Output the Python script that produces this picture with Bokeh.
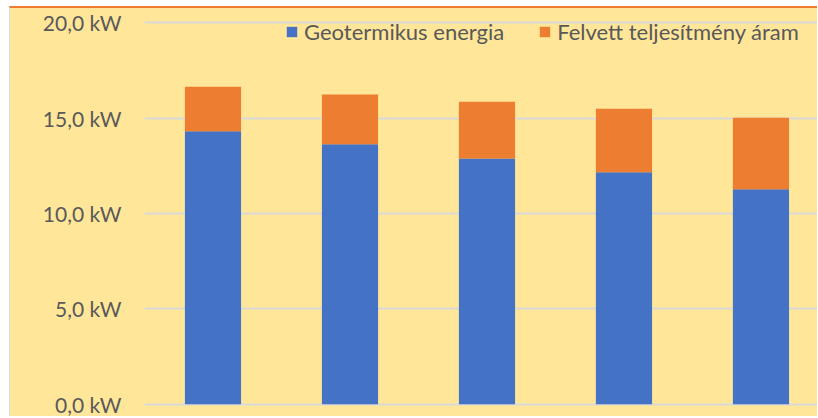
from bokeh.plotting import figure
from bokeh.models import Range1d, FixedTicker, ColumnDataSource, Legend, LegendItem
from bokeh.embed import file_html
from bokeh.resources import INLINE

categories = ["1", "2", "3", "4", "5"]
geo = [14.30, 13.63, 12.88, 12.16, 11.27]
elec = [2.34, 2.60, 2.97, 3.32, 3.74]
y_ticks = [0, 5, 10, 15, 20]
y_tick_labels = ["0,0 kW", "5,0 kW", "10,0 kW", "15,0 kW", "20,0 kW"]
series_names = ["Geotermikus energia", "Felvett teljesítmény áram"]

BG = "#FFE699"
TXT = "#595959"
FONT = "Lato"

x = list(range(len(categories)))
top_total = [g + e for g, e in zip(geo, elec)]
src = ColumnDataSource(dict(x=x, geo=geo, total=top_total))

p = figure(width=808, height=410, output_backend="svg", toolbar_location=None,
           x_range=Range1d(-0.5, 4.42), y_range=Range1d(-0.75, 20.74),
           min_border_left=134, min_border_right=0, min_border_top=0, min_border_bottom=0)
p.styles = {"margin-left": "9px", "margin-top": "6px",
            "border-top": "2px solid #ED7D31", "border-left": "1px solid #D9D9D9",
            "background-color": BG}
p.background_fill_color = None
p.border_fill_color = None
p.outline_line_color = None

r1 = p.vbar(x="x", bottom=0, top="geo", width=0.41, source=src, color="#4472C4", line_color=None)
r2 = p.vbar(x="x", bottom="geo", top="total", width=0.41, source=src, color="#ED7D31", line_color=None)

p.xaxis.visible = False
p.xgrid.visible = False

p.yaxis.ticker = FixedTicker(ticks=y_ticks)
p.yaxis.major_label_overrides = {t: l for t, l in zip(y_ticks, y_tick_labels)}
p.yaxis.axis_line_color = None
p.yaxis.major_tick_line_color = None
p.yaxis.minor_tick_line_color = None
p.yaxis.major_label_standoff = 17
p.yaxis.major_label_text_font = FONT
p.yaxis.major_label_text_font_size = "21px"
p.yaxis.major_label_text_color = TXT

p.ygrid.ticker = FixedTicker(ticks=y_ticks)
p.ygrid.grid_line_color = "#D9D9D9"
p.ygrid.grid_line_width = 2

legend = Legend(items=[LegendItem(label=series_names[0], renderers=[r1]),
                       LegendItem(label=series_names[1], renderers=[r2])],
                location=(141, 373), orientation="horizontal")
legend.background_fill_alpha = 0
legend.border_line_color = None
legend.padding = 0
legend.margin = 0
legend.spacing = 34
legend.glyph_width = 13
legend.glyph_height = 13
legend.label_standoff = 6
legend.label_text_font = FONT
legend.label_text_font_size = "22px"
legend.label_text_color = TXT
p.add_layout(legend)

open("out.html", "w").write(file_html(p, INLINE))
